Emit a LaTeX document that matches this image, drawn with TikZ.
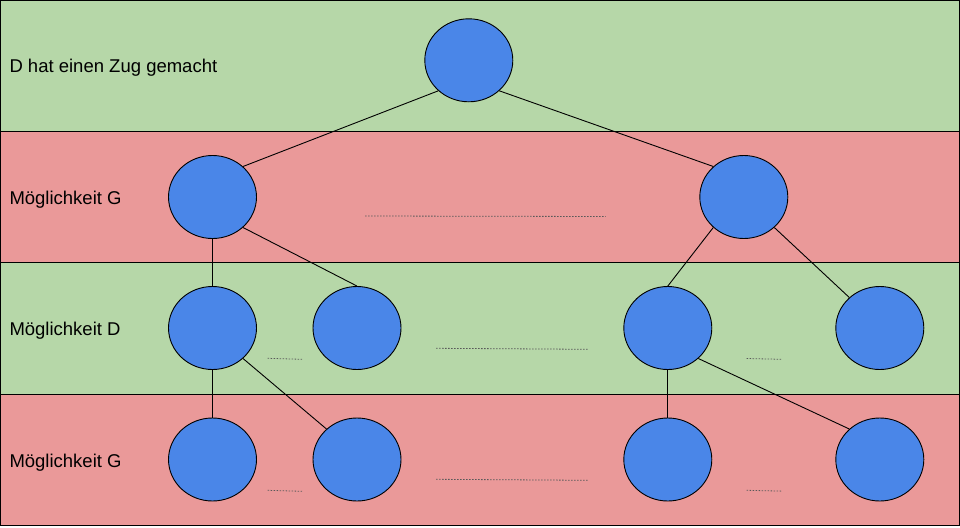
\documentclass[tikz,border=0pt]{standalone}
\usepackage{fontspec}
\setmainfont{Liberation Sans}
\usetikzlibrary{shapes.geometric}
\definecolor{bandgreen}{HTML}{B6D7A8}
\definecolor{bandred}{HTML}{EA9999}
\definecolor{vertexblue}{HTML}{4A86E8}

\begin{document}
\begin{tikzpicture}[x=1pt,y=-1pt,
    vertex/.style={ellipse,draw,line width=0.9pt,fill=vertexblue,minimum width=88pt,minimum height=83pt,inner sep=0pt},
    band/.style={draw,line width=1pt},
    rowlabel/.style={anchor=base west,inner sep=0pt,font=\fontsize{18.5}{22}\selectfont},
    dots/.style={draw=black!65,line width=0.8pt,dash pattern=on 1.5pt off 1.5pt}]
          \useasboundingbox (0,0) rectangle (960,527);

          % Draw the bands
          \filldraw[band,fill=bandgreen] (0.5,0.5) rectangle (959.5,131);
          \filldraw[band,fill=bandred] (0.5,131) rectangle (959.5,262.5);
          \filldraw[band,fill=bandgreen] (0.5,262.5) rectangle (959.5,394.3);
          \filldraw[band,fill=bandred] (0.5,394.3) rectangle (959.5,525.5);

          % Draw the labels
          \node[rowlabel] (zug) at (9.3,72.6) {D hat einen Zug gemacht};
          \node[rowlabel] (g1) at (9.3,204) {Möglichkeit G};
          \node[rowlabel] (d2) at (9.3,335.5) {Möglichkeit D};
          \node[rowlabel] (g3) at (9.3,467) {Möglichkeit G};

          % Draw the vertices
          \node[vertex] (v0) at (468.8,60.3) {};
          \node[vertex] (v1) at (212.5,197) {};
          \node[vertex] (v2) at (743.8,197) {};
          \node[vertex] (v11) at (212.5,328) {};
          \node[vertex] (v12) at (357,328) {};
          \node[vertex] (v21) at (667.8,328) {};
          \node[vertex] (v22) at (879.8,328) {};
          \node[vertex] (v111) at (212.5,459.5) {};
          \node[vertex] (v112) at (357,459.5) {};
          \node[vertex] (v211) at (667.8,459.5) {};
          \node[vertex] (v212) at (879.8,459.5) {};

          % Draw the edges
          \draw[line width=0.9pt] (v0.225) -- (v1.45);
          \draw[line width=0.9pt] (v0.315) -- (v2.135);
          \draw[line width=0.9pt] (v1.south) -- (v11.north);
          \draw[line width=0.9pt] (v1.315) -- (v12.north);
          \draw[line width=0.9pt] (v2.225) -- (v21.north);
          \draw[line width=0.9pt] (v2.315) -- (v22.135);
          \draw[line width=0.9pt] (v11.south) -- (v111.north);
          \draw[line width=0.9pt] (v11.315) -- (v112.135);
          \draw[line width=0.9pt] (v21.south) -- (v211.north);
          \draw[line width=0.9pt] (v21.315) -- (v212.135);

          % Draw the dots
          \draw[dots] (365,216) -- (605.7,216.5);
          \draw[dots] (267.7,358.3) -- (302,359.3);
          \draw[dots] (436,348.3) -- (588.7,349.3);
          \draw[dots] (746.7,358.5) -- (781,359.3);
          \draw[dots] (267.7,490.3) -- (302,491.3);
          \draw[dots] (436,479.3) -- (588.7,480.3);
          \draw[dots] (746.7,490.3) -- (781,491.1);

        \end{tikzpicture}
\end{document}
